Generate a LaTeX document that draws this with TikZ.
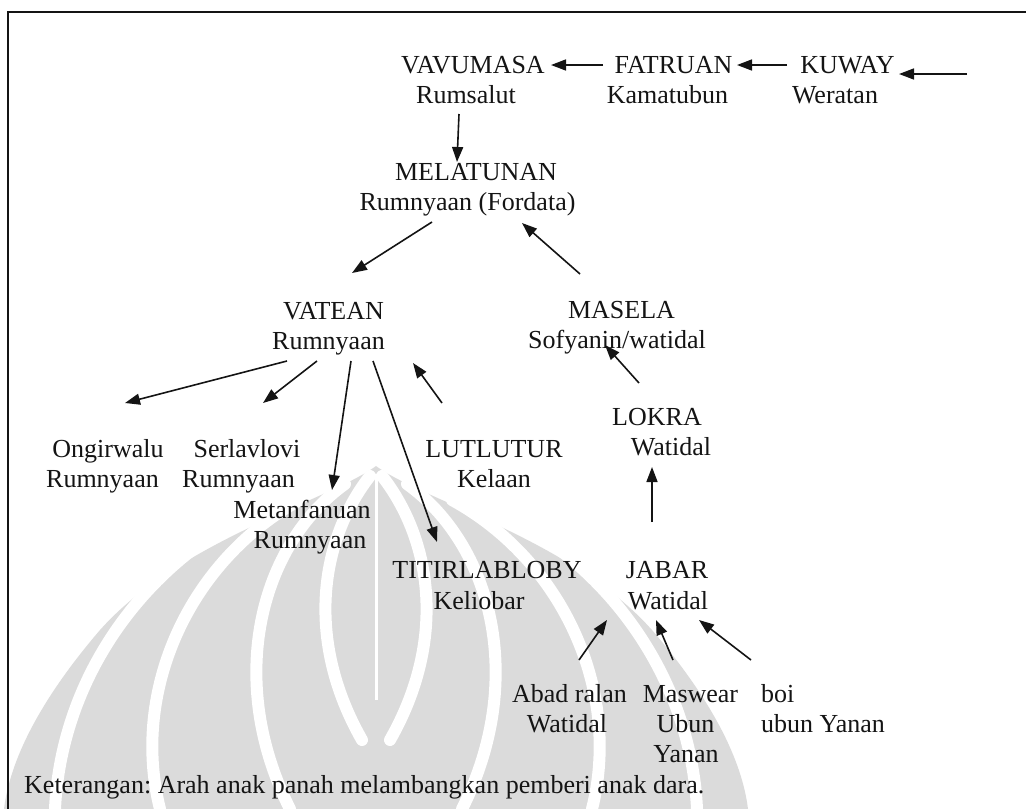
\documentclass[tikz,border=0pt]{standalone}
\usepackage{fontspec}
\setmainfont{Liberation Serif}
\usetikzlibrary{arrows.meta}
\frenchspacing
\begin{document}
\begin{tikzpicture}[x=1pt,y=-1pt,
  lbl/.style={anchor=base, inner sep=0pt, font=\fontsize{26}{30}\selectfont, text=black!92},
  lblw/.style={lbl, anchor=base west},
  arr/.style={line width=1.6pt, draw=black!92, -{Triangle[length=15pt,width=11pt]}},
  wm/.style={fill=black!14, draw=none},
  wms/.style={draw=white, line width=12pt, line cap=round},
  frame/.style={draw=black!92, line width=2.2pt}]
\useasboundingbox (0,0) rectangle (1026,809);

% watermark
\fill[wm] (376,466) .. controls (330,500) and (180,540) .. (100,630)
  .. controls (40,700) and (10,760) .. (4,809) -- (748,809)
  .. controls (742,760) and (712,700) .. (652,630)
  .. controls (572,540) and (422,500) .. (376,466) -- cycle;
\draw[white, line width=3pt] (376,474) -- (376,700);
\foreach \s in {1,-1}{
  \begin{scope}[shift={(376,0)}, xscale=\s]
    \draw[wms] (-6,476) .. controls (-56,540) and (-71,640) .. (-14,740);
    \draw[wms] (-31,484) .. controls (-116,545) and (-151,680) .. (-86,809);
    \draw[wms] (-76,500) .. controls (-186,560) and (-246,690) .. (-216,809);
    \draw[wms] (-146,524) .. controls (-256,590) and (-316,700) .. (-321,809);
  \end{scope}}

% frame
\draw[frame] (8,809) -- (8,12) -- (1026,12);

% nodes
\node[lbl] (n1) at (473,73) {VAVUMASA};
\node[lbl] (s1) at (466,103) {Rumsalut};
\node[lbl] (n2) at (673.5,73) {FATRUAN};
\node[lbl] (s2) at (667.5,103) {Kamatubun};
\node[lbl] (n3) at (847.5,73) {KUWAY};
\node[lbl] (s3) at (835,103) {Weratan};
\node[lbl] (n4) at (476,180) {MELATUNAN};
\node[lbl] (s4) at (467.5,210) {Rumnyaan (Fordata)};
\node[lbl] (n5) at (333.5,319) {VATEAN};
\node[lbl] (s5) at (328.5,349) {Rumnyaan};
\node[lbl] (n6) at (621.5,318) {MASELA};
\node[lbl] (s6) at (617,348) {Sofyanin/watidal};
\node[lbl] (n7) at (657,425) {LOKRA};
\node[lbl] (s7) at (671,455) {Watidal};
\node[lbl] (n8) at (108,457) {Ongirwalu};
\node[lbl] (s8) at (102.5,487) {Rumnyaan};
\node[lbl] (n9) at (247,457) {Serlavlovi};
\node[lbl] (s9) at (238.5,487) {Rumnyaan};
\node[lbl] (n10) at (494,457) {LUTLUTUR};
\node[lbl] (s10) at (494,487) {Kelaan};
\node[lbl] (n11) at (302,518) {Metanfanuan};
\node[lbl] (s11) at (310,548) {Rumnyaan};
\node[lbl] (n12) at (487,578) {TITIRLABLOBY};
\node[lbl] (s12) at (479,609) {Keliobar};
\node[lbl] (n13) at (667,578) {JABAR};
\node[lbl] (s13) at (668,609) {Watidal};
\node[lbl] (n14) at (569.5,702) {Abad ralan};
\node[lbl] (s14) at (567,732) {Watidal};
\node[lbl] (n15) at (690.5,702) {Maswear};
\node[lbl] (s15) at (685.5,732) {Ubun};
\node[lbl] (t15) at (686,762) {Yanan};
\node[lblw] (n16) at (761,702) {boi};
\node[lblw] (s16) at (761,732) {ubun Yanan};
\node[lblw] (note) at (24,793) {Keterangan: Arah anak panah melambangkan pemberi anak dara.};
\coordinate (src) at (967,74);

% connectors
\draw[arr] ([shift={(-70.5,-8)}]n2.base) -- ([shift={(78,-8)}]n1.base);
\draw[arr] ([shift={(-60.5,-8)}]n3.base) -- ([shift={(63.5,-8)}]n2.base);
\draw[arr] (src) -- ([shift={(51.5,1)}]n3.base);
\draw[arr] ([shift={(-7,11)}]s1.base) -- ([shift={(-19,-18)}]n4.base);
\draw[arr] ([shift={(-35.5,12)}]s4.base) -- ([shift={(18.5,-46)}]n5.base);
\draw[arr] ([shift={(-41.5,-44)}]n6.base) -- ([shift={(54.5,13)}]s4.base);
\draw[arr] ([shift={(-18,-42)}]n7.base) -- ([shift={(-12,-3)}]s6.base);
\draw[arr] ([shift={(-41.5,12)}]s5.base) -- ([shift={(17,-54)}]n8.base);
\draw[arr] ([shift={(-11.5,12)}]s5.base) -- ([shift={(16,-54)}]n9.base);
\draw[arr] ([shift={(22.5,12)}]s5.base) -- ([shift={(30,-28)}]n11.base);
\draw[arr] ([shift={(44.5,12)}]s5.base) -- ([shift={(-50,-36)}]n12.base);
\draw[arr] ([shift={(-52,-54)}]n10.base) -- ([shift={(84.5,14)}]s5.base);
\draw[arr] ([shift={(-15,-56)}]n13.base) -- ([shift={(-19,12)}]s7.base);
\draw[arr] ([shift={(9.5,-42)}]n14.base) -- ([shift={(-61,11)}]s13.base);
\draw[arr] ([shift={(-17.5,-42)}]n15.base) -- ([shift={(-12,11)}]s13.base);
\draw[arr] ([shift={(-10,-42)}]n16.base west) -- ([shift={(31,11)}]s13.base);
\end{tikzpicture}
\end{document}
